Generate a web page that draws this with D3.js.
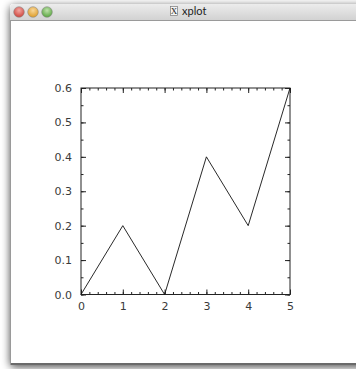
<!DOCTYPE html>
<html>
<head>
<meta charset="utf-8">
<script src="https://cdn.jsdelivr.net/npm/d3@7"></script>
<style>
  html, body { margin: 0; padding: 0; background: #ffffff; }
  svg { display: block; }
</style>
</head>
<body>
<svg id="chart" width="356" height="369"></svg>
<script>
// Series plotted in the xplot window
const xValues = [0, 1, 2, 3, 4, 5];
const yValues = [0.0, 0.2, 0.0, 0.4, 0.2, 0.6];
const xTicks = [0, 1, 2, 3, 4, 5];
const yTicks = [0.0, 0.1, 0.2, 0.3, 0.4, 0.5, 0.6];
const windowTitle = "xplot";

const svg = d3.select("#chart");
const W = 356, H = 369;

// ---- window chrome ----
const defs = svg.append("defs");
const tg = defs.append("linearGradient").attr("id", "titleGrad")
  .attr("x1", 0).attr("y1", 0).attr("x2", 0).attr("y2", 1);
tg.append("stop").attr("offset", "0%").attr("stop-color", "#ececec");
tg.append("stop").attr("offset", "100%").attr("stop-color", "#d2d2d2");

const sh = defs.append("filter").attr("id", "winShadow")
  .attr("x", "-10%").attr("y", "-10%").attr("width", "130%").attr("height", "130%");
sh.append("feGaussianBlur").attr("in", "SourceAlpha").attr("stdDeviation", 4.5);
sh.append("feOffset").attr("dx", 0).attr("dy", 2).attr("result", "b");
sh.append("feComponentTransfer").append("feFuncA").attr("type", "linear").attr("slope", 0.7);
const merge = sh.append("feMerge");
merge.append("feMergeNode");
merge.append("feMergeNode").attr("in", "SourceGraphic");

const win = { x: 10, y: 4, w: 360, h: 361 };
svg.append("rect")
  .attr("x", win.x).attr("y", win.y).attr("width", win.w).attr("height", win.h)
  .attr("rx", 4).attr("fill", "#ffffff").attr("filter", "url(#winShadow)");

// title bar
svg.append("path")
  .attr("d", `M${win.x},${win.y + 16} V${win.y + 4} Q${win.x},${win.y} ${win.x + 4},${win.y} H${W + 10} V${win.y + 16} Z`)
  .attr("fill", "url(#titleGrad)");
svg.append("line")
  .attr("x1", win.x).attr("x2", W).attr("y1", win.y + 16.5).attr("y2", win.y + 16.5)
  .attr("stroke", "#9a9a9a").attr("stroke-width", 1);

// bottom edge of the window
svg.append("rect")
  .attr("x", win.x).attr("y", win.y + win.h - 2).attr("width", W - win.x).attr("height", 2)
  .attr("fill", "#6a6a6a");
// left edge
svg.append("line")
  .attr("x1", win.x + 0.5).attr("x2", win.x + 0.5).attr("y1", win.y + 16).attr("y2", win.y + win.h)
  .attr("stroke", "#9a9a9a");

// traffic-light buttons
const buttons = [
  { cx: 19, c1: "#f3a8a2", c2: "#d04a42" },
  { cx: 33, c1: "#f8d79a", c2: "#dfa030" },
  { cx: 47, c1: "#bfe2ab", c2: "#5ea845" }
];
buttons.forEach((b, i) => {
  const g = defs.append("radialGradient").attr("id", "btn" + i)
    .attr("cx", "50%").attr("cy", "35%").attr("r", "60%");
  g.append("stop").attr("offset", "0%").attr("stop-color", b.c1);
  g.append("stop").attr("offset", "100%").attr("stop-color", b.c2);
  svg.append("circle").attr("cx", b.cx).attr("cy", 12).attr("r", 5.3)
    .attr("fill", `url(#btn${i})`).attr("stroke", "#8a8a8a").attr("stroke-width", 0.6);
});

// X11 icon and title
svg.append("rect").attr("x", 170.5).attr("y", 6.5).attr("width", 7).attr("height", 9)
  .attr("fill", "#f4f4f4").attr("stroke", "#7a7a7a").attr("stroke-width", 0.7);
svg.append("text").attr("x", 174).attr("y", 14.2).attr("text-anchor", "middle")
  .attr("font-family", "Liberation Serif, serif").attr("font-size", 9).attr("fill", "#222")
  .text("X");
svg.append("text").attr("x", 182).attr("y", 15)
  .attr("font-family", "Lato, Liberation Sans, sans-serif").attr("font-size", 11)
  .attr("fill", "#222").text(windowTitle);

// ---- plot ----
const plot = { left: 81, right: 290, top: 88, bottom: 294.5 };
const x = d3.scaleLinear().domain([0, 5]).range([plot.left, plot.right]);
const y = d3.scaleLinear().domain([0, 0.6]).range([plot.bottom, plot.top]);

const axisColor = "#222";
const fontFamily = "DejaVu Sans, sans-serif";

// minor tick positions
const xMinor = d3.range(0, 5.0001, 0.2);
const yMinor = d3.range(0, 0.6001, 0.05);

function styleAxis(g) {
  g.select(".domain").remove();
  g.selectAll(".tick line").attr("stroke", axisColor).attr("stroke-width", 1);
  g.selectAll(".tick text").attr("font-family", fontFamily).attr("font-size", 11)
    .attr("fill", "#3a3a3a");
}

// minor ticks on all four sides (inward)
const minorLen = 2.5;
svg.append("g").attr("transform", `translate(0,${plot.bottom})`)
  .call(d3.axisBottom(x).tickValues(xMinor).tickSize(-minorLen).tickFormat(""))
  .call(styleAxis);
svg.append("g").attr("transform", `translate(0,${plot.top})`)
  .call(d3.axisTop(x).tickValues(xMinor).tickSize(-minorLen).tickFormat(""))
  .call(styleAxis);
svg.append("g").attr("transform", `translate(${plot.left},0)`)
  .call(d3.axisLeft(y).tickValues(yMinor).tickSize(-minorLen).tickFormat(""))
  .call(styleAxis);
svg.append("g").attr("transform", `translate(${plot.right},0)`)
  .call(d3.axisRight(y).tickValues(yMinor).tickSize(-minorLen).tickFormat(""))
  .call(styleAxis);

// major ticks with labels
const majorLen = 5;
svg.append("g").attr("transform", `translate(0,${plot.bottom})`)
  .call(d3.axisBottom(x).tickValues(xTicks).tickSize(-majorLen).tickPadding(3 + majorLen).tickFormat(d3.format("d")))
  .call(styleAxis);
svg.append("g").attr("transform", `translate(0,${plot.top})`)
  .call(d3.axisTop(x).tickValues(xTicks).tickSize(-majorLen).tickFormat(""))
  .call(styleAxis);
svg.append("g").attr("transform", `translate(${plot.left},0)`)
  .call(d3.axisLeft(y).tickValues(yTicks).tickSize(-majorLen).tickPadding(4 + majorLen).tickFormat(d3.format(".1f")))
  .call(styleAxis);
svg.append("g").attr("transform", `translate(${plot.right},0)`)
  .call(d3.axisRight(y).tickValues(yTicks).tickSize(-majorLen).tickFormat(""))
  .call(styleAxis);

// plot box
svg.append("rect")
  .attr("x", plot.left).attr("y", plot.top)
  .attr("width", plot.right - plot.left).attr("height", plot.bottom - plot.top)
  .attr("fill", "none").attr("stroke", axisColor).attr("stroke-width", 1);

// data line
const line = d3.line().x((d, i) => x(xValues[i])).y(d => y(d));
svg.append("path").datum(yValues)
  .attr("d", line).attr("fill", "none")
  .attr("stroke", "#111").attr("stroke-width", 0.9);
</script>
</body>
</html>
